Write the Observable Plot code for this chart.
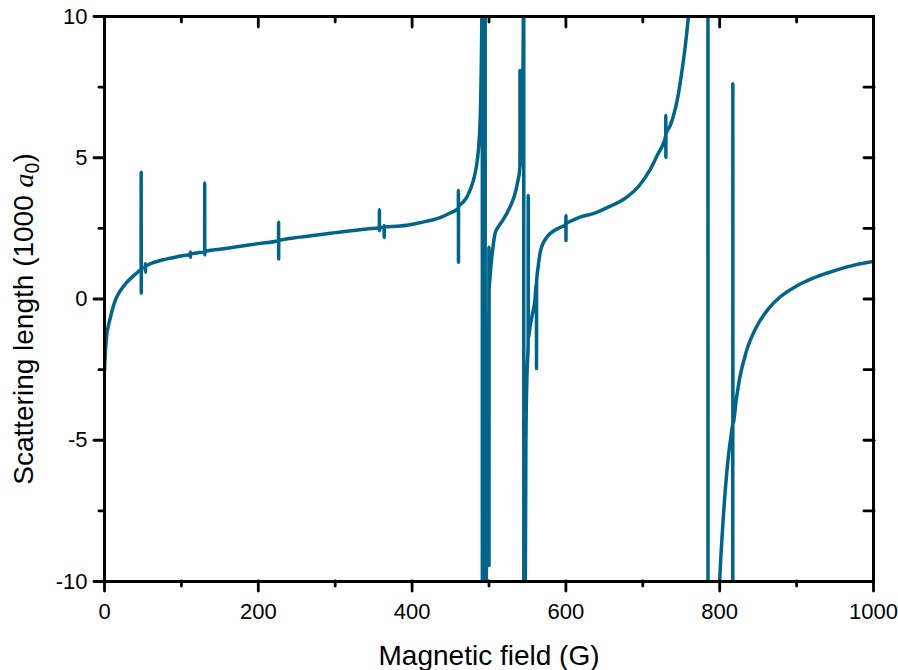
<!DOCTYPE html>
<html>
<head>
<meta charset="utf-8">
<script src="https://cdn.jsdelivr.net/npm/d3@7"></script>
<script src="https://cdn.jsdelivr.net/npm/@observablehq/plot@0.6"></script>
<style>
  html, body { margin: 0; padding: 0; background: #fff; }
  #chart svg { display: block; }
</style>
</head>
<body>
<div id="chart"></div>
<script>
// Magnetic field (G)
const fieldG = [
  0, 0.5, 1.3, 3, 5, 7.8, 10, 14, 20.8, 28, 38, 44, 47.6, 47.7, 47.8, 47.9,
  53.1, 53.2, 53.3, 53.4, 59.7, 75, 90, 103,
  111.6, 111.7, 111.8, 111.9, 120,
  130.2, 130.3, 130.4, 130.5, 150, 168, 200,
  226.3, 226.4, 226.5, 226.6, 254.5, 300, 341,
  357.4, 357.5, 357.6, 357.7, 363.5, 363.6, 363.7, 363.8,
  384.4, 410, 436.4, 450,
  460.1, 460.2, 460.3, 460.4,
  466, 471, 476, 479.6, 483, 486.2, 488, 489.2, 490, 490.5, 491, 491.3,
  491.4, 492.5, 494, 494.9, 495.0, 495.1, 496, 497, 498, 499, 499.8, 499.9, 500.0, 500.1,
  501.3, 503, 505, 507.8, 512, 517, 523, 528, 533.8, 537,
  540.2, 540.3, 540.4, 541.5, 542.5, 543.2, 543.7, 544.3, 544.8, 545.2,
  545.3, 546.5, 548, 549.5, 550.9, 551.0, 551.1, 553, 556, 559.7,
  561.7, 561.8, 561.9, 564, 566.2, 570, 575, 579.2, 590,
  599.9, 600.0, 600.1, 600.2, 606, 618.2, 635.5, 655, 678.8, 695, 709, 720, 726.4,
  729.8, 729.9, 730.0, 730.1, 735, 739.4, 745.9, 750, 755, 760, 770, 784.7,
  784.8, 795, 800, 804.3, 810.8, 815, 816.9, 817.0, 817.1, 817.2,
  821.6, 826, 834.7, 847.6, 864.9, 878, 900, 920, 940, 955.8, 975, 1000
];
// Scattering length (1000 a0)
const scatteringLength = [
  -2.55, -2.2, -1.82, -1.25, -0.95, -0.64, -0.4, -0.05, 0.3, 0.56, 0.83, 0.97, 1.07, 4.49, 0.21, 1.08,
  1.14, 1.25, 0.95, 1.15, 1.25, 1.38, 1.47, 1.54,
  1.58, 1.66, 1.48, 1.59, 1.63,
  1.67, 4.11, 1.56, 1.68, 1.76, 1.83, 1.96,
  2.06, 2.72, 1.42, 2.07, 2.19, 2.35, 2.48,
  2.52, 3.16, 2.42, 2.53, 2.54, 2.6, 2.18, 2.55,
  2.58, 2.7, 2.88, 3.05,
  3.22, 3.84, 1.30, 3.26,
  3.42, 3.6, 3.9, 4.19, 4.6, 5.26, 6.0, 7.03, 8.3, 9.4, 11.5, 16,
  -40, -22, -14, -12, 30, -30, -13, -8, -4.5, -2, -0.3, 1.83, -9.43, 0.3,
  0.77, 1.3, 1.8, 2.31, 2.55, 2.75, 3.02, 3.3, 3.72, 4.1,
  4.66, 8.09, 4.7, 5.1, 5.49, 6.2, 7.03, 8.5, 10.5, 16,
  -40, -15, -5, -2.6, -1.6, 3.66, -1.4, -1.05, -0.6, -0.05,
  0.55, -2.46, 0.6, 1.15, 1.6, 1.95, 2.18, 2.31, 2.5,
  2.65, 2.96, 2.07, 2.66, 2.75, 2.9, 3.02, 3.25, 3.6, 4.0, 4.55, 5.15, 5.49,
  5.8, 6.5, 5.02, 5.85, 6.1, 6.44, 7.2, 7.9, 8.9, 10.2, 14, 40,
  -40, -14, -9.96, -7.9, -5.7, -4.8, -4.45, -20, 7.62, -4.42,
  -3.55, -2.8, -1.85, -1.0, -0.3, 0.06, 0.46, 0.72, 0.92, 1.06, 1.2, 1.33
];

const xMajorTicks = [0, 200, 400, 600, 800, 1000];
const xMinorTicks = [100, 300, 500, 700, 900];
const yMajorTicks = [-10, -5, 0, 5, 10];
const yMinorTicks = [-7.5, -2.5, 2.5, 7.5];
const yRightTicks = [-7.5, -5, -2.5, 0, 2.5, 5, 7.5];

const xLabel = "Magnetic field (G)";
const yLabel = "Scattering length (1000 a0)";

const points = fieldG.map((x, i) => ({x, y: scatteringLength[i]}));

const lineColor = "#03648a";
const font = "'Liberation Sans', Arial, Helvetica, sans-serif";
const axisCommon = {label: null, strokeWidth: 2.8, strokeLinecap: "round"};

const chart = Plot.plot({
  width: 898,
  height: 670,
  marginLeft: 104,
  marginRight: 25,
  marginTop: 16,
  marginBottom: 89,
  style: {fontFamily: font, color: "black", background: "white", overflow: "visible"},
  x: {domain: [0, 1000]},
  y: {domain: [-10, 10]},
  marks: [
    Plot.line(points, {x: "x", y: "y", stroke: lineColor, strokeWidth: 3.5, curve: "monotone-x", clip: true}),
    Plot.frame({stroke: "black", strokeWidth: 3}),
    // bottom
    Plot.axisX(xMajorTicks, {...axisCommon, anchor: "bottom", tickSize: 10, tickPadding: 12, fontSize: 22, tickFormat: d => String(d)}),
    Plot.axisX(xMinorTicks, {...axisCommon, anchor: "bottom", tickSize: 5, fill: "none"}),
    // top (inward)
    Plot.axisX(xMajorTicks, {...axisCommon, anchor: "top", tickSize: -10, fill: "none"}),
    Plot.axisX(xMinorTicks, {...axisCommon, anchor: "top", tickSize: -5, fill: "none"}),
    // left
    Plot.axisY(yMajorTicks, {...axisCommon, anchor: "left", tickSize: 10, tickPadding: 7, fontSize: 22, tickFormat: d => String(d)}),
    Plot.axisY(yMinorTicks, {...axisCommon, anchor: "left", tickSize: 5, fill: "none"}),
    // right (inward)
    Plot.axisY(yRightTicks, {...axisCommon, anchor: "right", tickSize: -10, fill: "none"}),
    // axis titles
    Plot.text([xLabel], {frameAnchor: "bottom", dy: 83, lineAnchor: "bottom", textAnchor: "middle", fontSize: 28, fill: "black", text: d => d}),
    Plot.text([yLabel], {frameAnchor: "left", dx: -72, dy: 20, rotate: -90, lineAnchor: "bottom", textAnchor: "middle", fontSize: 28, fill: "black", text: d => d})
  ]
});

// italic a with subscript 0 in the y title
d3.select(chart).selectAll("text").filter(function () { return this.textContent === yLabel; }).each(function () {
  const t = d3.select(this);
  t.text(null);
  t.append("tspan").text("Scattering length (1000 ");
  t.append("tspan").attr("font-style", "italic").attr("font-family", "'Liberation Serif', 'Times New Roman', serif").text("a");
  t.append("tspan").attr("font-size", "0.7em").attr("dy", "0.35em").text("0");
  t.append("tspan").attr("dy", "-0.245em").text(")");
});

document.getElementById("chart").appendChild(chart);
</script>
</body>
</html>
